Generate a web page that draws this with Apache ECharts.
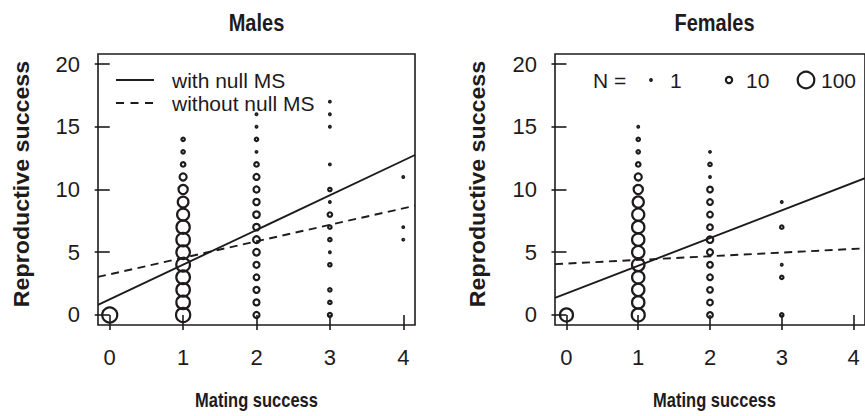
<!DOCTYPE html>
<html>
<head>
<meta charset="utf-8">
<script src="https://cdn.jsdelivr.net/npm/echarts@6/dist/echarts.min.js"></script>
<style>html,body{margin:0;padding:0;background:#fff}#c{width:865px;height:416px}</style>
</head>
<body>
<div id="c"></div>
<script>
// ---- data ----
const xTicks = [0, 1, 2, 3, 4];
const yTicks = [0, 5, 10, 15, 20];
const panelTitles = ['Males', 'Females'];
const xTitle = 'Mating success';
const yTitle = 'Reproductive success';

// [mating success, reproductive success, number of individuals]
const males = [
  [0, 0, 78],
  [1, 0, 68], [1, 1, 60], [1, 2, 60], [1, 3, 62], [1, 4, 62], [1, 5, 60], [1, 6, 60], [1, 7, 58],
  [1, 8, 45], [1, 9, 34], [1, 10, 24], [1, 11, 13], [1, 12, 5], [1, 13, 3], [1, 14, 3],
  [2, 0, 9], [2, 1, 9], [2, 2, 9], [2, 3, 8], [2, 4, 9], [2, 5, 11], [2, 6, 12], [2, 7, 11],
  [2, 8, 11], [2, 9, 10], [2, 10, 9], [2, 11, 9], [2, 12, 5], [2, 13, 1], [2, 14, 3], [2, 15, 1], [2, 16, 1],
  [3, 0, 4], [3, 1, 3], [3, 2, 3], [3, 4, 3], [3, 5, 1], [3, 6, 3], [3, 7, 3], [3, 8, 5],
  [3, 9, 1], [3, 10, 3], [3, 12, 1], [3, 15, 1], [3, 16, 1], [3, 17, 1],
  [4, 6, 1], [4, 7, 1], [4, 11, 1]
];
const females = [
  [0, 0, 55],
  [1, 0, 55], [1, 1, 48], [1, 2, 48], [1, 3, 48], [1, 4, 50], [1, 5, 48], [1, 6, 48], [1, 7, 48],
  [1, 8, 46], [1, 9, 38], [1, 10, 24], [1, 11, 13], [1, 12, 5], [1, 13, 3], [1, 14, 3], [1, 15, 1],
  [2, 0, 8], [2, 1, 8], [2, 2, 8], [2, 3, 8], [2, 4, 8], [2, 5, 9], [2, 6, 11], [2, 7, 8],
  [2, 8, 8], [2, 9, 8], [2, 10, 8], [2, 11, 1], [2, 12, 3], [2, 13, 1],
  [3, 0, 3], [3, 3, 3], [3, 4, 1], [3, 7, 3], [3, 9, 1]
];
// regression lines: endpoints at the plot edges
const maleWithNull = [[-0.16, 0.8], [4.16, 12.75]];
const maleWithoutNull = [[-0.16, 3.03], [4.16, 8.71]];
const femaleWithNull = [[-0.16, 1.36], [4.16, 10.9]];
const femaleWithoutNull = [[-0.16, 4.05], [4.16, 5.31]];
const legendLines = ['with null MS', 'without null MS'];
const legendN = [1, 10, 100];

// ---- styling ----
const INK = '#1e1b1c';
const FONT = "'Liberation Sans', Arial, Helvetica, sans-serif";
const sizeOf = n => 3.7 * Math.pow(n, 0.35) - 2;
const grids = [
  { left: 98, top: 54, width: 317, height: 271 },
  { left: 555, top: 54, width: 319, height: 271 }
];

function xAxis(i) {
  return {
    gridIndex: i, type: 'value', min: -0.16, max: 4.16,
    axisLine: { show: false }, splitLine: { show: false },
    axisTick: { show: true, length: 15, customValues: xTicks, lineStyle: { color: INK, width: 1.6 } },
    axisLabel: { customValues: xTicks, fontSize: 22, color: INK, margin: 21, fontFamily: FONT }
  };
}
function yAxis(i) {
  return {
    gridIndex: i, type: 'value', min: -0.8, max: 20.8,
    axisLine: { show: false }, splitLine: { show: false },
    axisTick: { show: true, length: 15, customValues: yTicks, lineStyle: { color: INK, width: 1.6 } },
    axisLabel: { customValues: yTicks, fontSize: 22, color: INK, margin: 18, fontFamily: FONT }
  };
}
function scatter(i, data) {
  return {
    type: 'scatter', xAxisIndex: i, yAxisIndex: i, data: data,
    symbol: 'circle', symbolSize: v => sizeOf(v[2]),
    itemStyle: { color: 'rgba(0,0,0,0)', borderColor: INK, borderWidth: 2.2, opacity: 1 },
    emphasis: { disabled: true }, silent: true, z: 3
  };
}
function line(i, data, dashed) {
  return {
    type: 'line', xAxisIndex: i, yAxisIndex: i, data: data, symbol: 'none',
    lineStyle: { color: INK, width: 1.9, type: dashed ? [8, 5.5] : 'solid' },
    silent: true, z: 4, clip: true
  };
}

const graphic = [];
function txt(x, y, text, size, bold, align, rot, sx, sy) {
  graphic.push({
    type: 'text', x: x, y: y, rotation: rot || 0, scaleX: sx || 1, scaleY: sy || 1, silent: true,
    style: { text: text, fill: INK, fontSize: size, fontWeight: bold ? 'bold' : 'normal',
      fontFamily: FONT, align: align || 'center', verticalAlign: 'middle' }
  });
}
grids.forEach((g, i) => {
  const cx = g.left + g.width / 2;
  txt(cx, 23, panelTitles[i], 20, true, 'center', 0, 1, 1.2);
  txt(cx, 401, xTitle, 16.5, true, 'center', 0, 1, 1.18);
  txt(i === 0 ? 22 : 478, 184, yTitle, 22, true, 'center', Math.PI / 2, 1.055, 1);
});
// left legend (line types)
graphic.push({ type: 'line', silent: true, shape: { x1: 116, y1: 80, x2: 154, y2: 80 }, style: { stroke: INK, lineWidth: 1.9 } });
graphic.push({ type: 'line', silent: true, shape: { x1: 116, y1: 103, x2: 154, y2: 103 }, style: { stroke: INK, lineWidth: 1.9, lineDash: [8, 6.5] } });
txt(172, 80, legendLines[0], 21, false, 'left');
txt(172, 103, legendLines[1], 21, false, 'left');
// right legend (symbol sizes)
txt(593, 80, 'N =', 21, false, 'left');
const keyX = [651, 729, 806];
const keyTextX = [670, 746, 821];
legendN.forEach((n, k) => {
  graphic.push({ type: 'circle', silent: true, shape: { cx: keyX[k], cy: 80, r: sizeOf(n) / 2 },
    style: { fill: 'none', stroke: INK, lineWidth: 2.2 } });
  txt(keyTextX[k], 80, String(n), 21, false, 'left');
});

const chart = echarts.init(document.getElementById('c'), null, { renderer: 'svg', width: 865, height: 416 });
chart.setOption({
  animation: false,
  backgroundColor: '#fff',
  grid: grids.map(g => Object.assign({ show: true, borderColor: INK, borderWidth: 1.6, backgroundColor: 'rgba(0,0,0,0)' }, g)),
  xAxis: [xAxis(0), xAxis(1)],
  yAxis: [yAxis(0), yAxis(1)],
  series: [
    scatter(0, males), scatter(1, females),
    line(0, maleWithNull, false), line(0, maleWithoutNull, true),
    line(1, femaleWithNull, false), line(1, femaleWithoutNull, true)
  ],
  graphic: graphic
});
</script>
</body>
</html>
